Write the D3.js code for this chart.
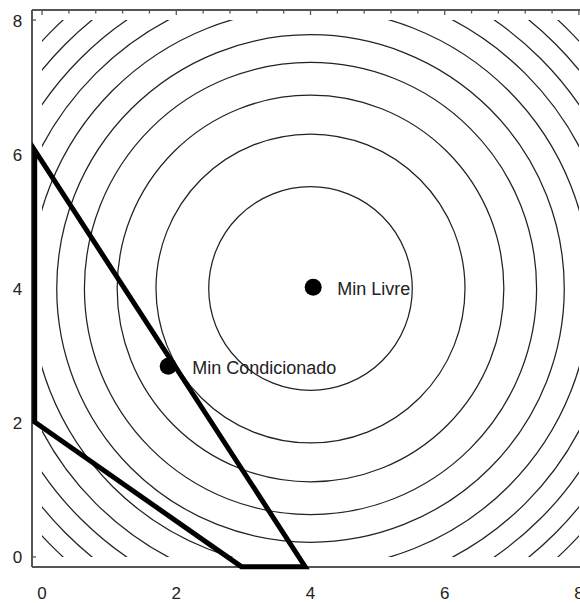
<!DOCTYPE html>
<html>
<head>
<meta charset="utf-8">
<script src="https://cdn.jsdelivr.net/npm/d3@7"></script>
<style>
  html, body { margin: 0; padding: 0; background: #fff; }
  svg { display: block; }
</style>
</head>
<body>
<div id="chart"></div>
<script>
// ---- data ----
const xTicks = [0, 2, 4, 6, 8];
const yTicks = [0, 2, 4, 6, 8];
const xMinorTicks = d3.range(0, 8.0001, 0.4);
// contour levels of f = (x-4)^2 + (y-4)^2
const contourLevels = [2.3, 5.3, 8.3, 11.35, 14.3, 17.4, 20.5, 23.5, 26.6, 29.6];
const centerX = 4.0;
const centerY = 4.0;
// feasible region outline
const regionX = [-0.11, -0.11, 2.97, 3.92];
const regionY = [6.06, 2.01, -0.145, -0.145];
// marked points
const pointNames = ["Min Livre", "Min Condicionado"];
const pointX = [4.04, 1.88];
const pointY = [4.02, 2.84];

// ---- layout ----
const W = 580, H = 603;
const svg = d3.select("#chart").append("svg").attr("width", W).attr("height", H);

const x = d3.scaleLinear().domain([-0.15, 8.15]).range([32, 589]);
const y = d3.scaleLinear().domain([-0.15, 8.15]).range([567, 10]);

// clip for contours (function evaluated on [0,8]^2)
svg.append("defs").append("clipPath").attr("id", "dom")
  .append("rect")
  .attr("x", x(0)).attr("y", y(8))
  .attr("width", x(8) - x(0)).attr("height", y(0) - y(8));

// contours
const unit = x(1) - x(0);
svg.append("g").attr("clip-path", "url(#dom)")
  .selectAll("circle").data(contourLevels).join("circle")
  .attr("cx", x(centerX)).attr("cy", y(centerY))
  .attr("r", d => Math.sqrt(d) * unit)
  .attr("fill", "none")
  .attr("stroke", "#222")
  .attr("stroke-width", 1.25);

// frame
const frameColor = "#555";
svg.append("line").attr("x1", x.range()[0]).attr("x2", x.range()[0])
  .attr("y1", y.range()[1]).attr("y2", y.range()[0])
  .attr("stroke", frameColor).attr("stroke-width", 2);
svg.append("line").attr("x1", x.range()[0]).attr("x2", x.range()[1])
  .attr("y1", y.range()[0]).attr("y2", y.range()[0])
  .attr("stroke", frameColor).attr("stroke-width", 2);
svg.append("line").attr("x1", x.range()[0]).attr("x2", x.range()[1])
  .attr("y1", y.range()[1]).attr("y2", y.range()[1])
  .attr("stroke", frameColor).attr("stroke-width", 2);

// top ticks (major + minor, pointing inward)
svg.append("g").selectAll("line").data(xMinorTicks).join("line")
  .attr("x1", d => x(d)).attr("x2", d => x(d))
  .attr("y1", y.range()[1])
  .attr("y2", d => y.range()[1] + (Math.abs(d / 2 - Math.round(d / 2)) < 1e-6 ? 5 : 3.5))
  .attr("stroke", frameColor).attr("stroke-width", 1.3);

// left ticks (major only)
svg.append("g").selectAll("line").data(yTicks).join("line")
  .attr("x1", x.range()[0]).attr("x2", x.range()[0] + 4)
  .attr("y1", d => y(d)).attr("y2", d => y(d))
  .attr("stroke", frameColor).attr("stroke-width", 1.3);

// tick labels
const tickFont = "'Liberation Sans', Arial, sans-serif";
svg.append("g").selectAll("text").data(xTicks).join("text")
  .attr("x", d => x(d)).attr("y", 599)
  .attr("text-anchor", "middle")
  .attr("font-family", tickFont).attr("font-size", 17)
  .attr("fill", "#222")
  .text(d => d);
svg.append("g").selectAll("text").data(yTicks).join("text")
  .attr("x", 17.5).attr("y", d => y(d) + 6.5)
  .attr("text-anchor", "middle")
  .attr("font-family", tickFont).attr("font-size", 17)
  .attr("fill", "#222")
  .text(d => d);

// feasible region
const region = regionX.map((v, i) => [v, regionY[i]]);
svg.append("path")
  .datum(region)
  .attr("d", d3.line().x(d => x(d[0])).y(d => y(d[1])).curve(d3.curveLinearClosed))
  .attr("fill", "none")
  .attr("stroke", "#000")
  .attr("stroke-width", 5)
  .attr("stroke-linejoin", "miter");

// points
const pts = pointNames.map((n, i) => ({ name: n, x: pointX[i], y: pointY[i] }));
svg.append("g").selectAll("circle").data(pts).join("circle")
  .attr("cx", d => x(d.x)).attr("cy", d => y(d.y)).attr("r", 8.5)
  .attr("fill", "#000");
svg.append("g").selectAll("text").data(pts).join("text")
  .attr("x", d => x(d.x) + 24).attr("y", d => y(d.y) + 8)
  .attr("font-family", tickFont).attr("font-size", 18)
  .attr("fill", "#222")
  .text(d => d.name);
</script>
</body>
</html>
